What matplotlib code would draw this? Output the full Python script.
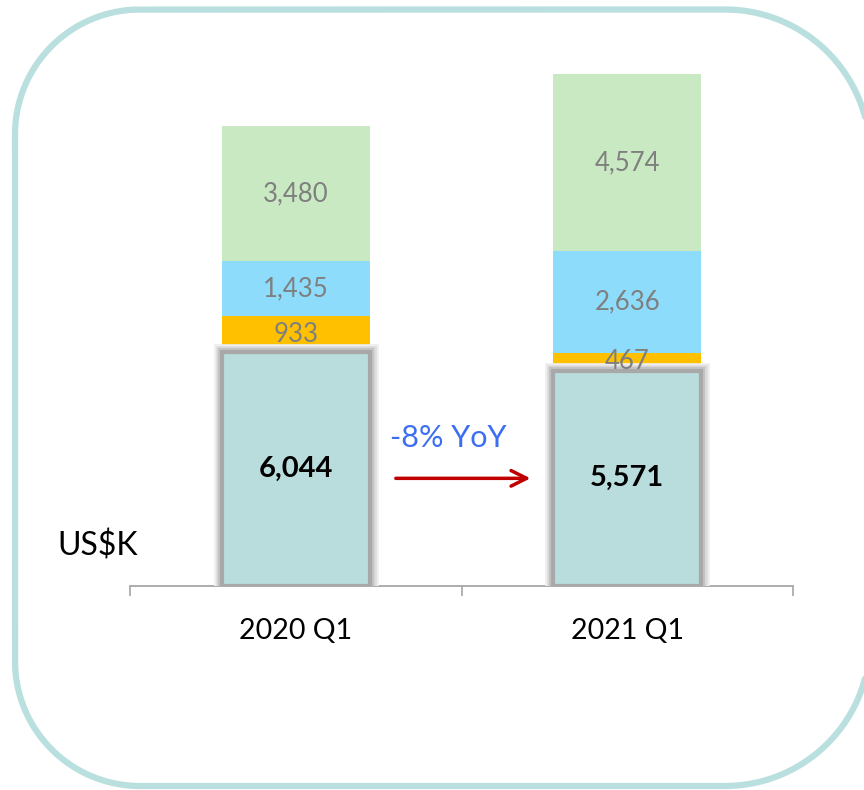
import numpy as np
import matplotlib.pyplot as plt
import matplotlib.patheffects as pe

# values in US$K
quarters = ["2020 Q1", "2021 Q1"]
base = [6044, 5571]
seg_orange = [933, 467]
seg_blue = [1435, 2636]
seg_green = [3480, 4574]

plt.rcParams['font.family'] = ['Lato', 'DejaVu Sans']

fig = plt.figure(figsize=(8.64, 7.90), dpi=100)

# background axes in pixel units, for the rounded frame
bg = fig.add_axes([0, 0, 1, 1])
bg.set_xlim(0, 864)
bg.set_ylim(0, 790)
bg.axis('off')

def corner(cx, cy, r, a0, a1):
    t = np.radians(np.linspace(a0, a1, 40))
    return cx + r * np.cos(t), cy + r * np.sin(t)

left, right, top, bot = 15, 870, 780.5, 4
rl, rr = 125, 145
pieces = [corner(right - rr, top - rr, rr, 0, 90),
          corner(left + rl, top - rl, rl, 90, 180),
          corner(left + rl, bot + rl, rl, 180, 270),
          corner(right - rr, bot + rr, rr, 270, 360)]
fx = np.concatenate([p[0] for p in pieces] + [pieces[0][0][:1]])
fy = np.concatenate([p[1] for p in pieces] + [pieces[0][1][:1]])
bg.plot(fx, fy, color='#badfdf', lw=4.5, solid_capstyle='round')

ax = fig.add_axes([130/864, 204/790, 663/864, 545/790])
x = np.arange(len(quarters))
w = 0.447

stack = [(seg_orange, '#ffc000'), (seg_blue, '#8ddcfb'), (seg_green, '#c9e9c2')]
bottom = np.array(base, dtype=float)
for vals, col in stack:
    ax.bar(x, vals, w, bottom=bottom, color=col, zorder=2)
    for xi, b, v in zip(x, bottom, vals):
        ax.text(xi, b + v / 2, f"{v:,}", ha='center', va='center',
                fontsize=18.5, color='#7f7f7f', zorder=5)
    bottom += vals

# base segment with gray border and soft shadow
shadow = [pe.Stroke(linewidth=12, foreground='#eeeeee'),
          pe.Stroke(linewidth=9, foreground='#dcdcdc'),
          pe.Stroke(linewidth=6, foreground='#c4c4c4'),
          pe.Normal()]
bars = ax.bar(x, base, w, color='#b9dcdc', edgecolor='#a8a8a8', linewidth=3, zorder=3)
for b in bars:
    b.set_path_effects(shadow)
for xi, v in zip(x, base):
    ax.text(xi, v / 2, f"{v:,}", ha='center', va='center', fontsize=21,
            fontweight='bold', color='black', zorder=5)

# YoY arrow
yoy = base[1] / base[0] - 1
ay = base[1] / 2
ax.annotate('', xy=(1 - w / 2 - 0.06, ay), xytext=(w / 2 + 0.07, ay),
            arrowprops=dict(arrowstyle='->', color='#c00000', lw=2.5, mutation_scale=28),
            zorder=4)
ax.text(0.46, ay + 1050, f"{yoy:.0%} YoY", ha='center', va='center',
        fontsize=22, color='#3c6ef2', zorder=5)

fig.text(57/864, 1 - 546/790, r'US\$K', fontsize=23, va='center', ha='left')

ax.set_xlim(-0.5, 1.5)
ax.set_ylim(0, 14100)
ax.set_xticks(x, quarters)
ax.set_xticks([-0.5, 0.5, 1.5], minor=True)
ax.tick_params(axis='x', which='major', length=0, pad=23, labelsize=20.5)
ax.tick_params(axis='x', which='minor', length=7, width=1.2, color='#a6a6a6')
ax.set_yticks([])
for s in ['left', 'top', 'right']:
    ax.spines[s].set_visible(False)
ax.spines['bottom'].set_color('#a6a6a6')
ax.spines['bottom'].set_linewidth(1.3)
ax.patch.set_alpha(0)

fig.savefig('out.png', dpi=100)
